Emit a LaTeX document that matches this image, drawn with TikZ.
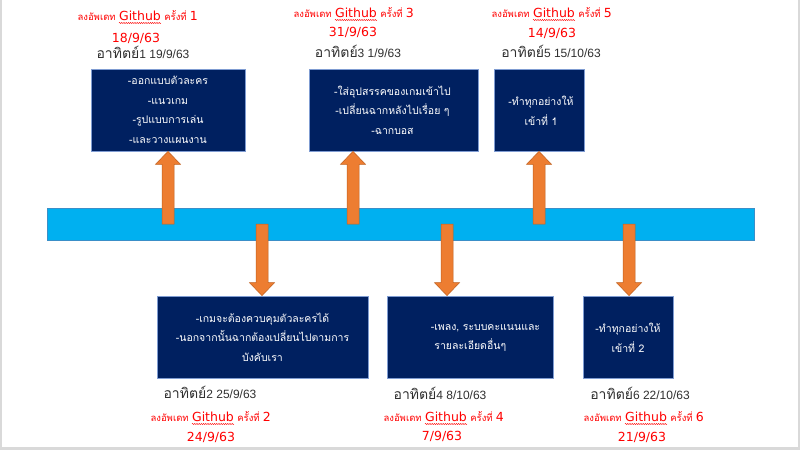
\documentclass[tikz,border=0pt]{standalone}
\usepackage{fontspec}
\setmainfont{Liberation Sans}
\newfontfamily\thaifont[Script=Thai]{Loma}
\newfontfamily\ghfamily{DejaVu Sans}
\usetikzlibrary{calc,decorations.pathmorphing}
\definecolor{navy}{HTML}{002060}
\definecolor{navyedge}{HTML}{7F9CD2}
\definecolor{barblue}{HTML}{00B0F0}
\definecolor{baredge}{HTML}{3A8FC8}
\definecolor{arrorange}{HTML}{ED7D31}
\definecolor{arredge}{HTML}{C0601E}
\definecolor{redtxt}{HTML}{FF0000}
\definecolor{darktxt}{HTML}{303030}
\definecolor{frame}{HTML}{D9D9D9}
\newcommand\sunday{{\thaifont\fontsize{14}{14}\selectfont อาทิตย์}}
\tikzset{
  barstyle/.style={draw=baredge, line width=0.6pt, fill=barblue, inner sep=0pt},
  boxstyle/.style={draw=navyedge, line width=0.7pt, fill=navy, inner sep=0pt, minimum height=82pt},
  boxtxt/.style={text=white, align=center, inner sep=0pt,
    font=\thaifont\fontsize{10.5}{19.5}\selectfont},
  arrowst/.style={fill=arrorange, draw=arredge, line width=0.5pt, line join=miter},
  ghtxt/.style={text=redtxt, inner sep=0pt, font=\ghfamily\fontsize{12.5}{14}\selectfont},
  ghth/.style={text=redtxt, inner sep=0pt, font=\thaifont\fontsize{9.5}{11}\selectfont},
  reddate/.style={text=redtxt, inner sep=0pt, anchor=base, font=\ghfamily\fontsize{12.5}{14}\selectfont},
  darkdate/.style={text=darktxt, inner sep=0pt, anchor=base, font=\fontsize{12}{14}\selectfont},
  wavy/.style={draw=redtxt, line width=0.4pt, decorate,
    decoration={snake, segment length=2.2pt, amplitude=0.6pt}}
}
\newcommand\tlarrow[2]{%
  \draw[arrowst] let \p1=(#1), \p2=(#2), \n1={(\y2>\y1)*2-1} in
    (\x1-6pt,\y1) -- (\x1-6pt,\y2-13pt*\n1) -- (\x1-12.5pt,\y2-13pt*\n1) --
    (\x2,\y2) -- (\x1+12.5pt,\y2-13pt*\n1) -- (\x1+6pt,\y2-13pt*\n1) --
    (\x1+6pt,\y1) -- cycle;}
\newcommand\ghlabel[3]{%
  \node[ghtxt, anchor=base] (#1) at (#2) {Github};
  \node[ghth, anchor=base east] (#1l) at ([xshift=-3pt]#1.base west) {ลงอัพเดท};
  \node[ghth, anchor=base west] (#1r) at ([xshift=3pt]#1.base east) {ครั้งที่\ {\ghfamily\fontsize{12.5}{14}\selectfont #3}};
  \draw[wavy] ([yshift=-3pt]#1.base west) -- ([yshift=-3pt]#1.base east);}
\begin{document}
\begin{tikzpicture}[x=1pt,y=-1pt]
\useasboundingbox (0,0) rectangle (800,450);
\fill[frame] (0,0) rectangle (800,450);
\fill[white] (2,0) rectangle (798,447);

% timeline bar
\node[barstyle, minimum width=707pt, minimum height=32pt] (bar) at (400.5,224) {};

% boxes
\node[boxstyle, minimum width=154pt] (t1) at (168,110) {};
\node[boxstyle, minimum width=169pt] (t2) at (393.5,110) {};
\node[boxstyle, minimum width=90pt]  (t3) at (539,110) {};
\node[boxstyle, minimum width=211pt] (b1) at (262.5,337) {};
\node[boxstyle, minimum width=166pt] (b2) at (470,337) {};
\node[boxstyle, minimum width=90pt]  (b3) at (628,337) {};

% box texts
\node[boxtxt] (t1x) at (t1.center) {-ออกแบบตัวละคร\\-แนวเกม\\-รูปแบบการเล่น\\-และวางแผนงาน};
\node[boxtxt] (t2x) at ([xshift=-1pt]t2.center) {-ใส่อุปสรรคของเกมเข้าไป\\-เปลี่ยนฉากหลังไปเรื่อย ๆ\\-ฉากบอส};
\node[boxtxt] (t3x) at ([xshift=2pt,yshift=-1pt]t3.center) {-ทำทุกอย่างให้\\เข้าที่ 1};
\node[boxtxt] (b1x) at ([yshift=0pt]b1.center) {-เกมจะต้องควบคุมตัวละครได้\\-นอกจากนั้นฉากต้องเปลี่ยนไปตามการ\\บังคับเรา};
\node[boxtxt, align=left, anchor=west] (b2x) at ([xshift=44pt,yshift=-1pt]b2.west) {-เพลง, ระบบคะแนนและ\\\ รายละเอียดอื่นๆ};
\node[boxtxt] (b3x) at ([yshift=-1pt]b3.center) {-ทำทุกอย่างให้\\เข้าที่ 2};

% arrows
\coordinate (u1) at (168,0);
\coordinate (u2) at (353,0);
\coordinate (u3) at (539,0);
\coordinate (d1) at (262,0);
\coordinate (d2) at (447,0);
\coordinate (d3) at (629,0);
\tlarrow{bar.center -| u1}{t1.south -| u1}
\tlarrow{bar.center -| u2}{t2.south -| u2}
\tlarrow{bar.center -| u3}{t3.south -| u3}
\tlarrow{bar.center -| d1}{b1.north -| d1}
\tlarrow{bar.center -| d2}{b2.north -| d2}
\tlarrow{bar.center -| d3}{b3.north -| d3}

% top labels
\ghlabel{g1}{140,20}{1}
\node[reddate] (r1) at (136,42) {18/9/63};
\node[darkdate] (s1) at (143,58) {\sunday1 19/9/63};
\ghlabel{g3}{356,17}{3}
\node[reddate] (r3) at (353,36) {31/9/63};
\node[darkdate] (s3) at (358,57) {\sunday3 1/9/63};
\ghlabel{g5}{554,17}{5}
\node[reddate] (r5) at (552,37) {14/9/63};
\node[darkdate] (s5) at (551,57) {\sunday5 15/10/63};

% bottom labels
\node[darkdate] (s2) at (210,398) {\sunday2 25/9/63};
\ghlabel{g2}{213,421}{2}
\node[reddate] (r2) at (211,441) {24/9/63};
\node[darkdate] (s4) at (440,399) {\sunday4 8/10/63};
\ghlabel{g4}{446,421}{4}
\node[reddate] (r4) at (442,440) {7/9/63};
\node[darkdate] (s6) at (640,399) {\sunday6 22/10/63};
\ghlabel{g6}{646,421}{6}
\node[reddate] (r6) at (642,441) {21/9/63};
\end{tikzpicture}
\end{document}
